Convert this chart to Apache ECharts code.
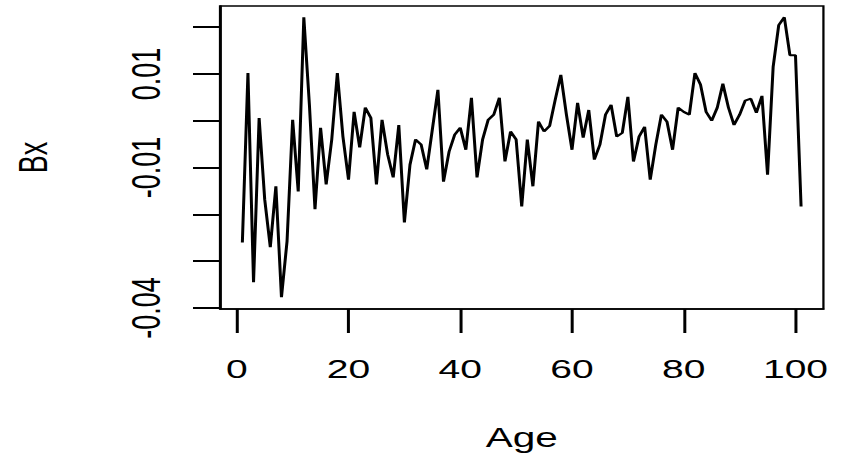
<!DOCTYPE html>
<html>
<head>
<meta charset="utf-8">
<script src="https://cdn.jsdelivr.net/npm/echarts@6/dist/echarts.min.js"></script>
<style>
  html, body { margin: 0; padding: 0; background: #fff; overflow: hidden; }
  #wrap { width: 841px; height: 463px; overflow: hidden; }
  /* chart is laid out narrow and widened horizontally, like a stretched base-graphics device */
  #chart { width: 560px; height: 463px; transform: scaleX(1.501786); transform-origin: 0 0; }
</style>
</head>
<body>
<div id="wrap"><div id="chart"></div></div>
<script>
// age index (1..101) and the Lee-Carter style bx coefficients
const age = [1,2,3,4,5,6,7,8,9,10,11,12,13,14,15,16,17,18,19,20,
  21,22,23,24,25,26,27,28,29,30,31,32,33,34,35,36,37,38,39,40,
  41,42,43,44,45,46,47,48,49,50,51,52,53,54,55,56,57,58,59,60,
  61,62,63,64,65,66,67,68,69,70,71,72,73,74,75,76,77,78,79,80,
  81,82,83,84,85,86,87,88,89,90,91,92,93,94,95,96,97,98,99,100,101];

const bx = [-0.0260, 0.0102, -0.0345, 0.0006, -0.0168, -0.0270, -0.0140, -0.0377, -0.0257, 0.0002,
  -0.0151, 0.0221, 0.0034, -0.0189, -0.0015, -0.0136, -0.0040, 0.0102, -0.0034, -0.0126,
  0.0019, -0.0057, 0.0028, 0.0006, -0.0136, 0.0002, -0.0072, -0.0121, -0.0009, -0.0217,
  -0.0094, -0.0040, -0.0051, -0.0104, -0.0019, 0.0066, -0.0130, -0.0066, -0.0030, -0.0015,
  -0.0062, 0.0049, -0.0121, -0.0040, 0.0002, 0.0013, 0.0049, -0.0087, -0.0023, -0.0040,
  -0.0183, -0.0040, -0.0140, -0.0002, -0.0023, -0.0011, 0.0045, 0.0098, 0.0013, -0.0062,
  0.0038, -0.0036, 0.0023, -0.0083, -0.0051, 0.0013, 0.0034, -0.0034, -0.0026, 0.0051,
  -0.0087, -0.0034, -0.0013, -0.0126, -0.0051, 0.0013, -0.0002, -0.0062, 0.0028, 0.0019,
  0.0013, 0.0102, 0.0077, 0.0019, 0.0000, 0.0028, 0.0079, 0.0028, -0.0009, 0.0013,
  0.0043, 0.0047, 0.0017, 0.0053, -0.0115, 0.0115, 0.0204, 0.0221, 0.0140, 0.0140, -0.0183];

const xTicks = [0, 20, 40, 60, 80, 100];
const yTicks = [-0.04, -0.03, -0.02, -0.01, 0, 0.01, 0.02];
const yTickLabels = [-0.04, -0.01, 0.01];

const font = 'Liberation Sans, Arial, sans-serif';
const points = age.map((a, i) => [a, bx[i]]);

const chart = echarts.init(document.getElementById('chart'), null, { renderer: 'svg' });
chart.setOption({
  animation: false,
  backgroundColor: '#fff',
  grid: {
    left: 146.5, right: 11.7, top: 6, bottom: 154, outerBoundsMode: 'none',
    show: true, borderColor: '#000', borderWidth: 1.5, backgroundColor: 'transparent'
  },
  xAxis: {
    type: 'value', min: -3, max: 105,
    axisLine: { show: true, onZero: false, lineStyle: { color: '#000', width: 1.5 } },
    axisTick: { show: true, length: 24, customValues: xTicks, lineStyle: { color: '#000', width: 2 } },
    axisLabel: { customValues: xTicks, margin: 47, fontSize: 26, color: '#000', fontFamily: font },
    splitLine: { show: false },
    name: 'Age', nameLocation: 'middle', nameGap: 115,
    nameTextStyle: { fontSize: 27, color: '#000', fontFamily: font }
  },
  yAxis: {
    type: 'value', min: -0.0402, max: 0.0245,
    axisLine: { show: true, onZero: false, lineStyle: { color: '#000', width: 1.5 } },
    axisTick: { show: true, length: 18, customValues: yTicks, lineStyle: { color: '#000', width: 2 } },
    axisLabel: {
      customValues: yTickLabels, rotate: 90, margin: 36, fontSize: 27, color: '#000', fontFamily: font,
      formatter: v => v.toFixed(2)
    },
    splitLine: { show: false },
    name: 'Bx', nameLocation: 'middle', nameGap: 111, nameRotate: 90,
    nameTextStyle: { fontSize: 27, color: '#000', fontFamily: font }
  },
  series: [{
    type: 'line',
    data: points,
    showSymbol: false,
    lineStyle: { color: '#000', width: 2 }
  }]
});
</script>
</body>
</html>
